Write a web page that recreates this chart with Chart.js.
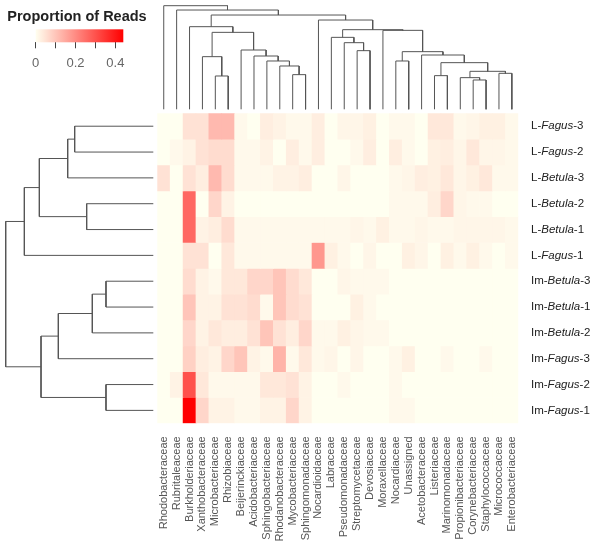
<!DOCTYPE html>
<html lang="en">
<head>
  <meta charset="UTF-8" />
  <title>Proportion of Reads - heatmap</title>
  <script src="https://cdn.jsdelivr.net/npm/chart.js"></script>
  <style>
    html, body { margin: 0; background: #fff; }
    #wrap { position: relative; width: 600px; height: 542px; }
    #wrap canvas { position: absolute; left: 0; top: 0; }
  </style>
</head>
<body>
<div id="wrap">
  <canvas id="heat" width="600" height="542"></canvas>
  <canvas id="topTree" width="600" height="116"></canvas>
  <canvas id="leftTree" width="160" height="542"></canvas>
  <canvas id="key" width="160" height="80"></canvas>
</div>
<script>
  // columns (families) in dendrogram order
  const colNames = ['Rhodobacteraceae', 'Rubritaleaceae', 'Burkholderiaceae', 'Xanthobacteraceae',
    'Microbacteriaceae', 'Rhizobiaceae', 'Beijerinckiaceae', 'Acidobacteriaceae', 'Sphingobacteriaceae',
    'Rhodanobacteraceae', 'Mycobacteriaceae', 'Sphingomonadaceae', 'Nocardioidaceae', 'Labraceae',
    'Pseudomonadaceae', 'Streptomycetaceae', 'Devosiaceae', 'Moraxellaceae', 'Nocardiaceae', 'Unassigned',
    'Acetobacteraceae', 'Listeriaceae', 'Marinomonadaceae', 'Propionibacteriaceae', 'Corynebacteriaceae',
    'Staphylococcaceae', 'Micrococcaceae', 'Enterobacteriaceae'];

  const rowNames = ['L-Fagus-3', 'L-Fagus-2', 'L-Betula-3', 'L-Betula-2', 'L-Betula-1', 'L-Fagus-1',
    'Im-Betula-3', 'Im-Betula-1', 'Im-Betula-2', 'Im-Fagus-3', 'Im-Fagus-2', 'Im-Fagus-1'];

  // proportion of reads, one array per sample (same order as colNames)
  const lFagus3   = [0, 0, 0.05, 0.05, 0.12, 0.12, 0.01, 0, 0.03, 0.02, 0.01, 0.01, 0.03, 0, 0.015, 0.015, 0.025, 0, 0.01, 0.01, 0, 0.04, 0.04, 0.01, 0.015, 0.025, 0.025, 0.01];
  const lFagus2   = [0, 0.01, 0.02, 0.05, 0.06, 0.06, 0.01, 0.01, 0.02, 0, 0.03, 0.01, 0.03, 0, 0, 0.01, 0.03, 0, 0.03, 0.01, 0, 0.025, 0.03, 0.015, 0.04, 0.015, 0.015, 0.01];
  const lBetula3  = [0.05, 0, 0.05, 0.03, 0.12, 0.06, 0.01, 0.01, 0.01, 0.02, 0.02, 0.03, 0, 0, 0.015, 0, 0, 0, 0.01, 0.015, 0.03, 0.025, 0.04, 0.015, 0.025, 0.04, 0.01, 0.01];
  const lBetula2  = [0, 0, 0.26, 0, 0.07, 0.02, 0, 0, 0, 0, 0, 0, 0, 0, 0, 0, 0, 0, 0.01, 0.01, 0.01, 0.03, 0.07, 0.015, 0.01, 0.01, 0, 0];
  const lBetula1  = [0, 0, 0.26, 0.02, 0.03, 0.06, 0.01, 0.01, 0.01, 0.01, 0.01, 0.01, 0.01, 0.01, 0.01, 0.015, 0.01, 0.025, 0.01, 0.01, 0.015, 0.01, 0.01, 0.015, 0.015, 0.015, 0.015, 0.01];
  const lFagus1   = [0, 0, 0.05, 0.05, 0, 0.04, 0.01, 0.01, 0.01, 0.01, 0.01, 0.01, 0.18, 0.025, 0.01, 0, 0.015, 0, 0, 0.025, 0.015, 0, 0.025, 0.01, 0.025, 0.01, 0, 0.01];
  const imBetula3 = [0, 0, 0.06, 0.02, 0.01, 0.04, 0.04, 0.07, 0.07, 0.10, 0.06, 0.04, 0, 0, 0.015, 0.01, 0.01, 0.01, 0, 0, 0, 0, 0, 0, 0, 0, 0, 0];
  const imBetula1 = [0, 0, 0.10, 0.02, 0.02, 0.05, 0.05, 0.06, 0.01, 0.10, 0.06, 0.05, 0, 0, 0, 0.025, 0.01, 0, 0, 0, 0, 0, 0, 0, 0, 0, 0, 0];
  const imBetula2 = [0, 0, 0.07, 0.02, 0.04, 0.03, 0.03, 0.05, 0.10, 0.05, 0.03, 0.07, 0.01, 0.01, 0.025, 0.015, 0.01, 0.01, 0, 0, 0, 0, 0, 0, 0, 0, 0, 0];
  const imFagus3  = [0, 0, 0.08, 0.03, 0.02, 0.07, 0.10, 0.02, 0.01, 0.13, 0.01, 0.04, 0.01, 0.015, 0, 0.015, 0, 0, 0.01, 0.025, 0, 0, 0.01, 0, 0, 0.01, 0, 0];
  const imFagus2  = [0, 0.02, 0.30, 0.04, 0.01, 0.01, 0.01, 0.01, 0.04, 0.04, 0.05, 0.02, 0, 0, 0.01, 0, 0, 0, 0.01, 0, 0, 0, 0, 0, 0, 0, 0, 0];
  const imFagus1  = [0, 0, 0.44, 0.07, 0.02, 0.02, 0.01, 0.01, 0.02, 0.02, 0.07, 0.02, 0, 0, 0, 0, 0, 0, 0.01, 0.01, 0, 0, 0, 0, 0, 0, 0, 0];
  const values = [lFagus3, lFagus2, lBetula3, lBetula2, lBetula1, lFagus1,
    imBetula3, imBetula1, imBetula2, imFagus3, imFagus2, imFagus1];

  // hclust style merges: negative = leaf (1-based), positive = earlier merge row; third = height
  const colMerge = [
    [-5, -6, 1.00], [-11, -12, 1.04], [-25, -26, 0.88], [-24, 3, 0.95], [-27, -28, 1.08],
    [4, 5, 1.14], [-22, -23, 1.01], [7, 6, 1.40], [-21, 8, 1.63], [-19, -20, 1.45],
    [10, 9, 1.73], [-16, -17, 1.76], [-15, 12, 2.00], [-14, 13, 2.16], [-18, 11, 2.37],
    [14, 15, 2.39], [-13, 16, 2.68], [-10, 2, 1.30], [-9, 18, 1.45], [-8, 19, 1.60],
    [-7, 20, 1.78], [-4, 1, 1.58], [22, 21, 2.31], [-3, 23, 2.48], [24, 17, 2.83],
    [-2, 25, 2.98], [-1, 26, 3.11]
  ];
  const rowMerge = [
    [-1, -2, 2.36], [-4, -5, 2.00], [1, -3, 2.57], [3, 2, 3.42], [4, -6, 3.87],
    [-7, -8, 1.42], [6, -9, 1.83], [7, -10, 2.85], [-11, -12, 1.42], [8, 9, 3.37],
    [5, 10, 4.43]
  ];

  const keyTicks = [0, 0.1, 0.2, 0.3, 0.4];
  const keyLabels = ['0', '', '0.2', '', '0.4'];
  const maxVal = 0.44;

  const FONT = "'Liberation Sans', Arial, sans-serif";

  function heatColor(v) {
    const t = Math.max(0, Math.min(1, v / maxVal));
    const g = Math.round(255 * (1 - t));
    const b = Math.round(240 * (1 - t));
    return `rgb(255,${g},${b})`;
  }

  function dendroPoints(merges) {
    const pos = [], ht = [], pts = [];
    const at = k => k < 0 ? [-k - 1, 0] : [pos[k - 1], ht[k - 1]];
    merges.forEach(([a, b, h], i) => {
      const [pa, ha] = at(a), [pb, hb] = at(b);
      pts.push([pa, ha], [pa, h], [pb, h], [pb, hb], null);
      pos[i] = (pa + pb) / 2;
      ht[i] = h;
    });
    return pts;
  }

  // ---- heatmap ----
  const rowLabelPlugin = {
    id: 'rowLabels',
    afterDraw(chart) {
      const ctx = chart.ctx, y = chart.scales.y;
      ctx.save();
      ctx.fillStyle = '#222';
      ctx.textBaseline = 'middle';
      rowNames.forEach((name, r) => {
        const m = name.match(/^(\w+-)(\w+)(-\d+)$/);
        const py = y.getPixelForValue(r + 0.5);
        let px = 531;
        [[m[1], ''], [m[2], 'italic '], [m[3], '']].forEach(([txt, st]) => {
          ctx.font = `${st}11.5px ${FONT}`;
          ctx.fillText(txt, px, py);
          px += ctx.measureText(txt).width;
        });
      });
      ctx.restore();
    }
  };

  new Chart(document.getElementById('heat'), {
    type: 'bar',
    data: {
      labels: colNames,
      datasets: rowNames.map((name, r) => ({
        label: name,
        data: values[r].map(() => [r, r + 1]),
        backgroundColor: values[r].map(heatColor),
        borderWidth: 0,
        barPercentage: 1,
        categoryPercentage: 1,
        grouped: false
      }))
    },
    options: {
      responsive: false,
      animation: false,
      layout: { padding: { left: 157.3, right: 81.7, top: 113.3, bottom: 0 } },
      plugins: { legend: { display: false }, tooltip: { enabled: false } },
      scales: {
        x: {
          grid: { display: false, drawTicks: false },
          border: { display: false },
          ticks: {
            autoSkip: false, minRotation: 90, maxRotation: 90, padding: 13,
            color: '#555', font: { family: FONT, size: 11 }
          },
          afterFit: s => { s.height = 118.7; }
        },
        y: { display: false, min: 0, max: 12, reverse: true }
      }
    },
    plugins: [rowLabelPlugin]
  });

  // ---- column dendrogram ----
  new Chart(document.getElementById('topTree'), {
    type: 'scatter',
    data: {
      datasets: [{
        data: dendroPoints(colMerge).map(p => p ? { x: p[0], y: p[1] } : { x: null, y: null }),
        showLine: true, spanGaps: false, borderColor: '#555', borderWidth: 1,
        pointRadius: 0, clip: 5
      }]
    },
    options: {
      responsive: false,
      animation: false,
      layout: { padding: { left: 157.3, right: 81.7, top: 5.7, bottom: 6.7 } },
      plugins: { legend: { display: false }, tooltip: { enabled: false } },
      scales: {
        x: { display: false, min: -0.5, max: 27.5 },
        y: { display: false, min: 0, max: 3.11 }
      }
    }
  });

  // ---- row dendrogram ----
  new Chart(document.getElementById('leftTree'), {
    type: 'scatter',
    data: {
      datasets: [{
        data: dendroPoints(rowMerge).map(p => p ? { x: p[1], y: p[0] } : { x: null, y: null }),
        showLine: true, spanGaps: false, borderColor: '#555', borderWidth: 1,
        pointRadius: 0, clip: 5
      }]
    },
    options: {
      responsive: false,
      animation: false,
      layout: { padding: { left: 5.7, right: 6.7, top: 113.3, bottom: 118.7 } },
      plugins: { legend: { display: false }, tooltip: { enabled: false } },
      scales: {
        x: { display: false, min: 0, max: 4.43, reverse: true },
        y: { display: false, min: -0.5, max: 11.5, reverse: true }
      }
    }
  });

  // ---- colour key ----
  const keyPlugin = {
    id: 'keyBar',
    beforeDatasetsDraw(chart) {
      const { ctx, chartArea: a } = chart, x = chart.scales.x;
      const x0 = x.getPixelForValue(0), x1 = x.getPixelForValue(maxVal);
      const grad = ctx.createLinearGradient(x0, 0, x1, 0);
      for (let i = 0; i <= 10; i++) grad.addColorStop(i / 10, heatColor(maxVal * i / 10));
      ctx.save();
      ctx.fillStyle = grad;
      ctx.fillRect(a.left, a.top, a.right - a.left, a.bottom - a.top);
      ctx.font = `bold 14.5px ${FONT}`;
      ctx.fillStyle = '#222';
      ctx.textBaseline = 'middle';
      ctx.fillText('Proportion of Reads', 7.3, 16.7);
      ctx.restore();
    }
  };

  new Chart(document.getElementById('key'), {
    type: 'scatter',
    data: { datasets: [{ data: [] }] },
    options: {
      responsive: false,
      animation: false,
      layout: { padding: { left: 35.7, right: 36.7, top: 29.3, bottom: 0 } },
      plugins: { legend: { display: false }, tooltip: { enabled: false } },
      scales: {
        x: {
          type: 'linear', min: 0, max: maxVal, position: 'bottom',
          afterBuildTicks: s => { s.ticks = keyTicks.map(v => ({ value: v })); },
          grid: { drawOnChartArea: false, drawTicks: true, tickLength: 6, color: '#444' },
          border: { display: false },
          ticks: {
            padding: 7, color: '#666', font: { family: FONT, size: 13 },
            callback: (v, i) => keyLabels[i]
          },
          afterFit: s => { s.height = 37.7; }
        },
        y: { display: false, min: 0, max: 1 }
      }
    },
    plugins: [keyPlugin]
  });
</script>
</body>
</html>
